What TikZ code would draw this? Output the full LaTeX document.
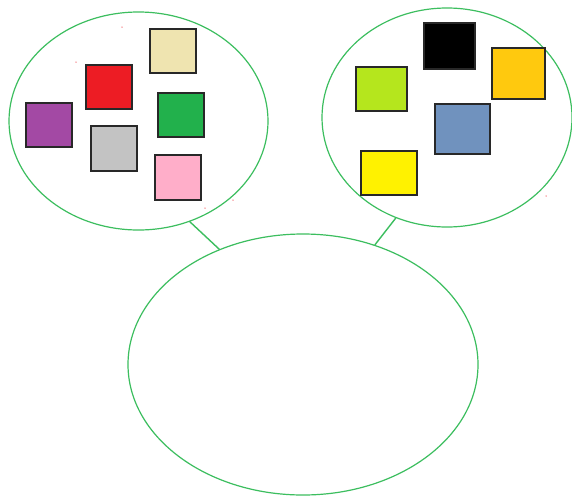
\documentclass[tikz,border=0pt]{standalone}
\usetikzlibrary{shapes.geometric}
\definecolor{ringgreen}{RGB}{60,190,95}
\definecolor{cbeige}{RGB}{239,228,176}
\definecolor{cred}{RGB}{237,28,36}
\definecolor{cpurple}{RGB}{163,73,164}
\definecolor{cgreen}{RGB}{34,177,76}
\definecolor{cgray}{RGB}{195,195,195}
\definecolor{cpink}{RGB}{255,174,201}
\definecolor{corange}{RGB}{255,201,14}
\definecolor{clime}{RGB}{181,230,29}
\definecolor{cblue}{RGB}{112,146,190}
\definecolor{cyellow}{RGB}{255,242,0}
\definecolor{cdot}{RGB}{237,28,36}
\begin{document}
\begin{tikzpicture}[x=1pt,y=-1pt,
  ring/.style={draw=ringgreen,line width=1.2pt,ellipse,inner sep=0pt},
  sq/.style={draw={rgb,255:red,40;green,40;blue,40},line width=1.5pt,rectangle,inner sep=0pt},
  link/.style={draw=ringgreen,line width=1.4pt},
  speck/.style={fill=cdot!60,circle,inner sep=0pt,minimum size=1.5pt}]
\useasboundingbox (0,0) rectangle (572,496);
\fill[white] (0,0) rectangle (572,496);
\node[ring,minimum width=259pt,minimum height=218pt] (L) at (138.5,121) {};
\node[ring,minimum width=250pt,minimum height=219pt] (R) at (447,117.5) {};
\node[ring,minimum width=350pt,minimum height=261pt] (B) at (303,364.5) {};
\draw[link] (L.-63.9) -- (B.126.6);
\draw[link] (R.243.1) -- (B.59.3);
% left group
\node[sq,fill=cpurple,minimum width=46pt,minimum height=44pt] (s1) at (49,125) {};
\node[sq,fill=cred,minimum width=46pt,minimum height=44pt] (s2) at (109,87) {};
\node[sq,fill=cbeige,minimum width=46pt,minimum height=44pt] (s3) at (173,51) {};
\node[sq,fill=cgreen,minimum width=46pt,minimum height=44pt] (s4) at (181,115) {};
\node[sq,fill=cgray,minimum width=46pt,minimum height=45pt] (s5) at (114,148.5) {};
\node[sq,fill=cpink,minimum width=46pt,minimum height=45pt] (s6) at (178,177.5) {};
% right group
\node[sq,fill=black,minimum width=51pt,minimum height=46pt] (t1) at (449.5,46) {};
\node[sq,fill=corange,minimum width=53pt,minimum height=51pt] (t2) at (518.5,73.5) {};
\node[sq,fill=clime,minimum width=51pt,minimum height=44pt] (t3) at (381.5,89) {};
\node[sq,fill=cblue,minimum width=55pt,minimum height=50pt] (t4) at (462.5,129) {};
\node[sq,fill=cyellow,minimum width=56pt,minimum height=44pt] (t5) at (389,173) {};
% stray specks
\node[speck] (d1) at (122,27) {};
\node[speck] (d2) at (76,62) {};
\node[speck] (d3) at (205,208) {};
\node[speck] (d4) at (233,200) {};
\node[speck] (d5) at (546,196) {};
\end{tikzpicture}
\end{document}
